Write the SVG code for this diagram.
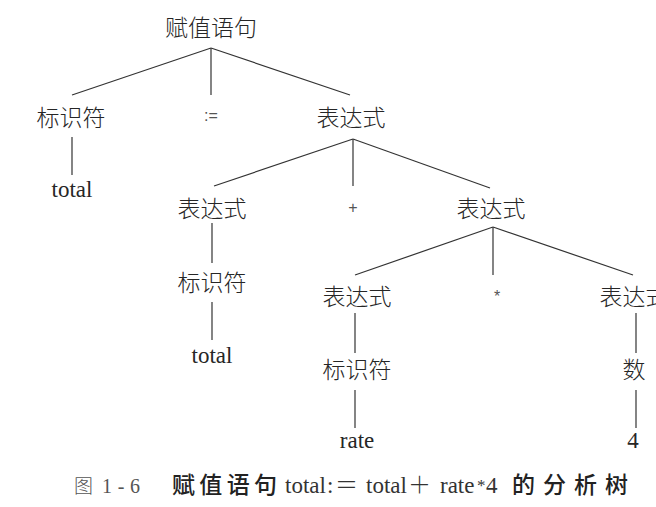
<svg xmlns="http://www.w3.org/2000/svg" width="656" height="507" viewBox="0 0 656 507">
<style>
.cn{font-family:"Noto Sans CJK SC","Noto Sans",sans-serif;font-size:23px;fill:#262626;text-anchor:middle;font-weight:300}
.lt{font-family:"Liberation Serif","Times New Roman",serif;font-size:23px;fill:#262626;text-anchor:middle}
.op{font-family:"Liberation Sans",sans-serif;font-size:16px;fill:#555;text-anchor:middle}
.cap{font-family:"Liberation Serif","Noto Sans CJK SC",serif;font-size:23px;fill:#333}
.fw{font-family:"Noto Sans CJK SC",sans-serif;font-weight:300}
.capg{font-family:"Noto Sans CJK SC",sans-serif;font-size:19px;fill:#555;font-weight:300}
.capcn{font-family:"Noto Sans CJK SC",sans-serif;font-size:23px;fill:#222;font-weight:500}
line{stroke:#333;stroke-width:1.2}
</style>
<rect width="656" height="507" fill="#fff"/>
<g id="connectors">
<line x1="211" y1="48" x2="72" y2="95"/>
<line x1="211" y1="48" x2="211" y2="95"/>
<line x1="211" y1="48" x2="350" y2="95"/>
<line x1="72" y1="137" x2="72" y2="175"/>
<line x1="353" y1="139" x2="214" y2="186"/>
<line x1="353" y1="139" x2="353" y2="186"/>
<line x1="353" y1="139" x2="490" y2="188"/>
<line x1="212" y1="223" x2="212" y2="263"/>
<line x1="212" y1="302" x2="212" y2="340"/>
<line x1="493" y1="227" x2="355" y2="275"/>
<line x1="493" y1="227" x2="493" y2="275"/>
<line x1="493" y1="227" x2="633" y2="275"/>
<line x1="355" y1="313" x2="355" y2="353"/>
<line x1="355" y1="390" x2="355" y2="428"/>
<line x1="636" y1="313" x2="636" y2="353"/>
<line x1="636" y1="390" x2="636" y2="428"/>
</g>
<g id="n_root"><text class="cn" x="211" y="36">赋值语句</text></g>
<g id="n_id1"><text class="cn" x="71" y="126">标识符</text></g>
<g id="n_assign"><text class="op" x="211" y="121">:=</text></g>
<g id="n_expr1"><text class="cn" x="351" y="126">表达式</text></g>
<g id="n_total1"><text class="lt" x="72" y="197">total</text></g>
<g id="n_expr2"><text class="cn" x="212" y="217">表达式</text></g>
<g id="n_plus"><text class="op" x="353" y="213">+</text></g>
<g id="n_expr3"><text class="cn" x="491" y="217">表达式</text></g>
<g id="n_id2"><text class="cn" x="212" y="291">标识符</text></g>
<g id="n_total2"><text class="lt" x="212" y="363">total</text></g>
<g id="n_expr4"><text class="cn" x="357" y="305">表达式</text></g>
<g id="n_star"><text class="op" x="497" y="302">*</text></g>
<g id="n_expr5"><text class="cn" x="634" y="305">表达式</text></g>
<g id="n_id3"><text class="cn" x="357" y="378">标识符</text></g>
<g id="n_num"><text class="cn" x="634" y="378">数</text></g>
<g id="n_rate"><text class="lt" x="357" y="448">rate</text></g>
<g id="n_4"><text class="lt" x="633" y="448">4</text></g>
<g id="caption">
<text class="capg" x="74" y="493">图</text>
<text class="cap" x="102" y="493" textLength="38" style="fill:#555;font-size:20px">1-6</text>
<text class="capcn" x="172" y="493" textLength="105">赋值语句</text>
<text class="cap" y="493"><tspan x="285">total</tspan><tspan x="327">:</tspan><tspan class="fw" x="335">＝</tspan><tspan x="366">total</tspan><tspan class="fw" x="408">＋</tspan><tspan x="440">rate</tspan><tspan x="477" dy="-2" style="font-size:17px">*</tspan><tspan x="486" dy="2">4</tspan></text>
<text class="capcn" x="512" y="493" textLength="116">的分析树</text>
</g>
</svg>
